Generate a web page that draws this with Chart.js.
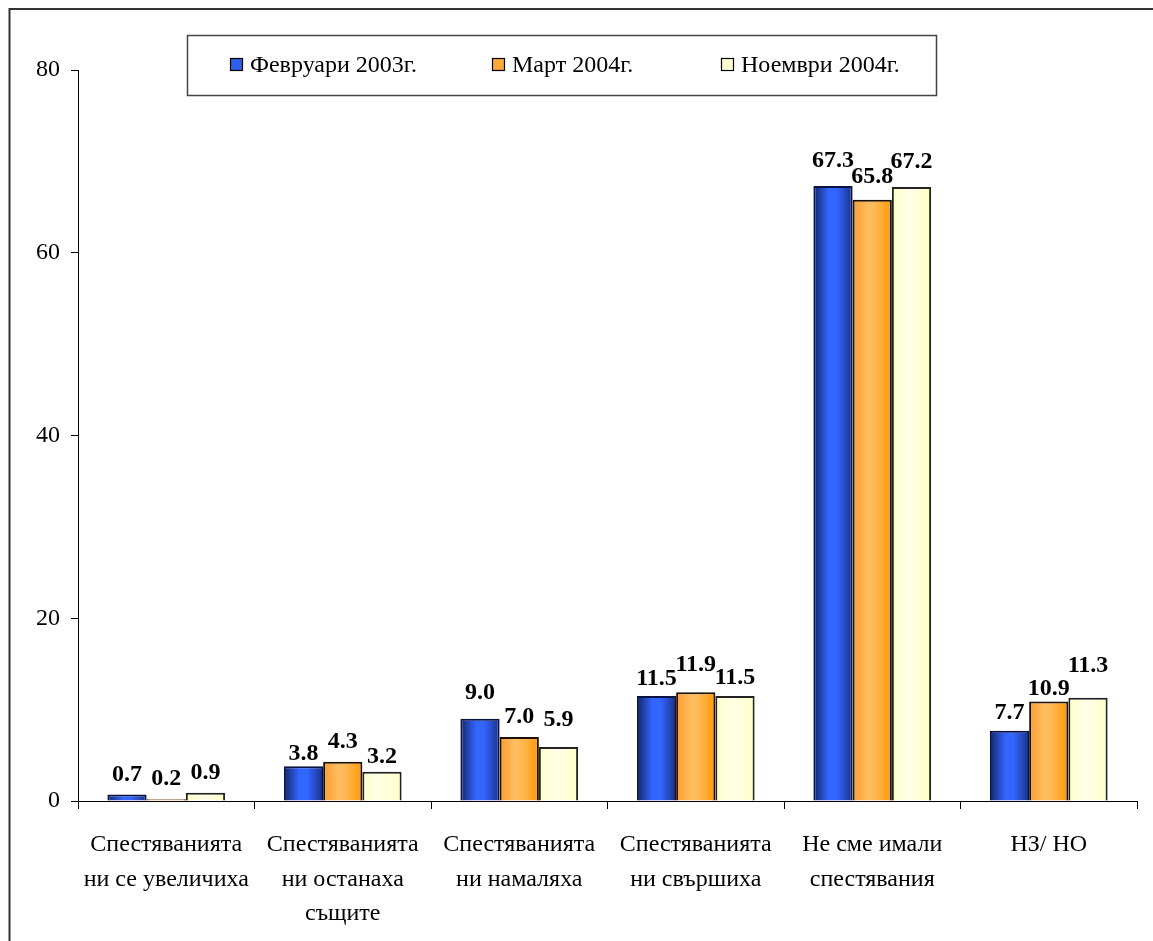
<!DOCTYPE html>
<html>
<head>
<meta charset="utf-8">
<script src="https://cdn.jsdelivr.net/npm/chart.js@4/dist/chart.umd.min.js"></script>
<style>
  html, body { margin: 0; padding: 0; background: #fff; }
  #wrap { width: 1153px; height: 941px; position: relative; }
</style>
</head>
<body>
<div id="wrap"><canvas id="chart" width="1153" height="941"></canvas></div>
<script>
(function () {
  'use strict';

  // ============================================================
  //  Data
  // ============================================================
  var categories = [
    ['Спестяванията', 'ни се увеличиха'],
    ['Спестяванията', 'ни останаха', 'същите'],
    ['Спестяванията', 'ни намаляха'],
    ['Спестяванията', 'ни свършиха'],
    ['Не сме имали', 'спестявания'],
    ['НЗ/ НО']
  ];
  var seriesNames = ['Февруари 2003г.', 'Март 2004г.', 'Ноември 2004г.'];
  var feb2003 = [0.7, 3.8, 9.0, 11.5, 67.3, 7.7];
  var mar2004 = [0.2, 4.3, 7.0, 11.9, 65.8, 10.9];
  var nov2004 = [0.9, 3.2, 5.9, 11.5, 67.2, 11.3];
  var yTicks = [0, 20, 40, 60, 80];

  var FONT = '"Liberation Serif", "Times New Roman", serif';
  var CAT_PCT = 0.667;

  // gradient stops per series: edge, centre, edge
  var fills = [
    ['#12266a', '#3366ff', '#3366ff', '#1a3088'],
    ['#ff9a2e', '#ffbe62', '#ffb650', '#ff9900'],
    ['#ffffc8', '#ffffe6', '#ffffe0', '#ffffc4']
  ];
  var legendColors = ['#2f5ef0', '#ffa83a', '#ffffd2'];
  var borders = ['#0a1240', '#1a1000', '#222'];

  function barFill(si) {
    return function (ctx) {
      var chart = ctx.chart, x = chart.scales.x;
      var st = fills[si];
      if (!x || !chart.chartArea || ctx.type !== 'data') return st[1];
      var cw = (x.right - x.left) / categories.length;
      var bw = cw * CAT_PCT / 3;
      var left = x.getPixelForValue(ctx.dataIndex) - bw * 1.5 + bw * si;
      var g = chart.ctx.createLinearGradient(left, 0, left + bw, 0);
      g.addColorStop(0, st[0]);
      g.addColorStop(0.4, st[1]);
      g.addColorStop(0.6, st[2]);
      g.addColorStop(1, st[3]);
      return g;
    };
  }

  // ============================================================
  //  Plugins — frame, value labels, boxed legend
  // ============================================================
  var framePlugin = {
    id: 'frame',
    beforeDraw: function (chart) {
      var c = chart.ctx;
      c.save();
      c.fillStyle = '#fff';
      c.fillRect(0, 0, chart.width, chart.height);
      c.strokeStyle = '#333';
      c.lineWidth = 2;
      c.beginPath();
      c.moveTo(9.5, chart.height + 5);
      c.lineTo(9.5, 9);
      c.lineTo(chart.width + 5, 9);
      c.stroke();
      c.restore();
    }
  };

  // the original chart had a few labels dragged up/down to avoid overlaps
  var labelShift = [
    [0, 8, -6, 3, -5, 2],
    [0, 0, 0, -7, -3, 8],
    [0, 5, -7, 2, -5, -12]
  ];

  var valuePlugin = {
    id: 'values',
    afterDatasetsDraw: function (chart) {
      var c = chart.ctx;
      c.save();
      c.font = 'bold 24px ' + FONT;
      c.fillStyle = '#000';
      c.textAlign = 'center';
      c.textBaseline = 'alphabetic';
      chart.data.datasets.forEach(function (ds, di) {
        chart.getDatasetMeta(di).data.forEach(function (bar, i) {
          c.fillText(ds.data[i].toFixed(1), bar.x, bar.y - 14 + labelShift[di][i]);
        });
      });
      c.restore();
    }
  };

  var legendPlugin = {
    id: 'boxLegend',
    afterDraw: function (chart) {
      var c = chart.ctx;
      var itemX = [230, 492, 721];
      c.save();
      c.fillStyle = '#fff';
      c.fillRect(187, 35, 750, 61);
      c.strokeStyle = '#444';
      c.lineWidth = 1.5;
      c.strokeRect(187.5, 35.5, 749, 60);
      c.font = '24px ' + FONT;
      c.textBaseline = 'middle';
      c.textAlign = 'left';
      seriesNames.forEach(function (name, i) {
        c.fillStyle = legendColors[i];
        c.fillRect(itemX[i], 58, 13, 13);
        c.strokeStyle = '#000';
        c.lineWidth = 1.2;
        c.strokeRect(itemX[i] + 0.5, 58.5, 12, 12);
        c.fillStyle = '#000';
        c.fillText(name, itemX[i] + 20, 66);
      });
      c.restore();
    }
  };

  // ============================================================
  //  Chart
  // ============================================================
  var seriesData = [feb2003, mar2004, nov2004];

  new Chart(document.getElementById('chart').getContext('2d'), {
    type: 'bar',
    data: {
      labels: categories,
      datasets: seriesData.map(function (d, i) {
        return {
          label: seriesNames[i],
          data: d,
          backgroundColor: barFill(i),
          borderColor: borders[i],
          borderWidth: 2,
          categoryPercentage: CAT_PCT,
          barPercentage: 1
        };
      })
    },
    options: {
      responsive: false,
      animation: false,
      devicePixelRatio: 1,
      layout: { padding: { left: 0, right: 16, top: 70, bottom: 0 } },
      plugins: {
        legend: { display: false },
        tooltip: { enabled: false }
      },
      scales: {
        x: {
          grid: { display: true, drawOnChartArea: false, drawTicks: true, tickLength: 8, color: '#000', offset: true },
          border: { display: true, color: '#000', width: 1 },
          ticks: {
            color: '#000', autoSkip: false, maxRotation: 0, padding: 19,
            font: { family: FONT, size: 24, lineHeight: 1.43 }
          },
          afterFit: function (s) { s.height = 140; }
        },
        y: {
          min: 0, max: 80,
          afterBuildTicks: function (s) {
            s.ticks = yTicks.map(function (v) { return { value: v }; });
          },
          grid: { display: true, drawOnChartArea: false, drawTicks: true, tickLength: 7, color: '#000' },
          border: { display: true, color: '#000', width: 1 },
          ticks: {
            color: '#000', padding: 11,
            font: { family: FONT, size: 24 }
          },
          afterFit: function (s) { s.width = 78; }
        }
      }
    },
    plugins: [framePlugin, valuePlugin, legendPlugin]
  });
})();
</script>
</body>
</html>
